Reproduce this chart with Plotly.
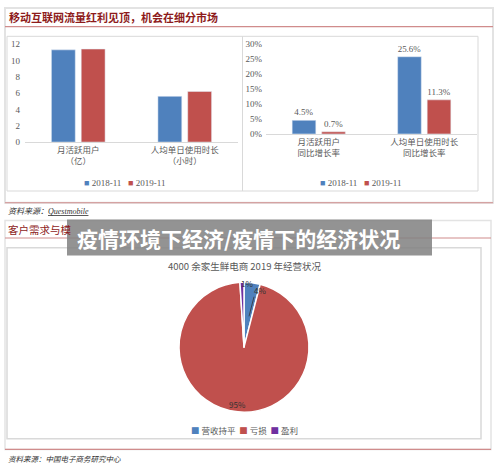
import plotly.graph_objects as go

W, H = 500, 476

def px(x):
    return x / W

def py(y):
    return 1 - y / H

# ---------------- data ----------------
left_categories = ["月活跃用户<br>（亿）", "人均单日使用时长<br>（小时）"]
left_2018 = [11.3, 5.6]
left_2019 = [11.4, 6.2]

right_categories = ["月活跃用户<br>同比增长率", "人均单日使用时长<br>同比增长率"]
right_2018 = [4.5, 25.6]
right_2019 = [0.7, 11.3]

series_names = ["2018-11", "2019-11"]

pie_labels = ["营收持平", "亏损", "盈利"]
pie_values = [4, 95, 1]

left_yticks = [0, 2, 4, 6, 8, 10, 12]
right_yticks = [0, 5, 10, 15, 20, 25, 30]

# ---------------- styles ----------------
BLUE = "#4F81BD"
RED = "#C0504D"
PURPLE = "#7030A0"
GRAY_TXT = "#595959"
SERIF = "Liberation Serif, Noto Sans CJK SC"
SANS = "Noto Sans CJK SC"
TITLE_RED = "#8E1B1B"
BOX = "#D9D9D9"
RED_LINE = "#D08C8C"

fig = go.Figure()

# left chart bars
fig.add_trace(go.Bar(x=left_categories, y=left_2018, name=series_names[0], marker_color=BLUE,
                     xaxis="x", yaxis="y", showlegend=False))
fig.add_trace(go.Bar(x=left_categories, y=left_2019, name=series_names[1], marker_color=RED,
                     xaxis="x", yaxis="y", showlegend=False))

# right chart bars
fig.add_trace(go.Bar(x=right_categories, y=right_2018, name=series_names[0], marker_color=BLUE,
                     xaxis="x2", yaxis="y2", showlegend=False,
                     text=[f"{v:.1f}%" for v in right_2018], textposition="outside",
                     textfont=dict(family=SERIF, size=9, color=GRAY_TXT), cliponaxis=False))
fig.add_trace(go.Bar(x=right_categories, y=right_2019, name=series_names[1], marker_color=RED,
                     xaxis="x2", yaxis="y2", showlegend=False,
                     text=[f"{v:.1f}%" for v in right_2019], textposition="outside",
                     textfont=dict(family=SERIF, size=9, color=GRAY_TXT), cliponaxis=False))

# pie
pie_colors = [BLUE, RED, PURPLE]
fig.add_trace(go.Pie(labels=pie_labels, values=pie_values, sort=False, direction="clockwise",
                     rotation=0,
                     marker=dict(colors=pie_colors, line=dict(color="white", width=1.5)),
                     textinfo="none", hoverinfo="label+percent",
                     domain=dict(x=[px(179), px(309)], y=[py(416), py(283)]),
                     showlegend=False))

axis_common = dict(showgrid=False, zeroline=False)

fig.update_layout(
    width=W, height=H,
    margin=dict(l=0, r=0, t=0, b=0),
    paper_bgcolor="white", plot_bgcolor="white",
    barmode="group", bargap=0.44, bargroupgap=0.2,
    showlegend=False,
    xaxis=dict(domain=[px(25), px(238)], anchor="y", showline=True, linecolor=BOX, linewidth=1,
               ticks="", tickfont=dict(family=SANS, size=8.5, color=GRAY_TXT), **axis_common),
    yaxis=dict(domain=[py(140), py(40)], anchor="x", range=[0, 12], tickvals=left_yticks,
               ticktext=[str(v) for v in left_yticks],
               showline=False, ticks="", tickfont=dict(family=SERIF, size=9, color=GRAY_TXT),
               ticklabelstandoff=4, **axis_common),
    xaxis2=dict(domain=[px(266), px(477)], anchor="y2", showline=True, linecolor=BOX, linewidth=1,
                ticks="", tickfont=dict(family=SANS, size=8.5, color=GRAY_TXT), **axis_common),
    yaxis2=dict(domain=[py(131.7), py(39.3)], anchor="x2", range=[0, 30], tickvals=right_yticks,
                ticktext=[f"{v}%" for v in right_yticks], showline=False, ticks="",
                tickfont=dict(family=SERIF, size=9, color=GRAY_TXT),
                ticklabelstandoff=3, **axis_common),
)

shapes = []

def rect(x0, y0, x1, y1, color, width=1, fill="rgba(0,0,0,0)", layer="below"):
    shapes.append(dict(type="rect", xref="paper", yref="paper", x0=px(x0), x1=px(x1),
                       y0=py(y1), y1=py(y0), line=dict(color=color, width=width),
                       fillcolor=fill, layer=layer))

def line(x0, y0, x1, y1, color, width=1):
    shapes.append(dict(type="line", xref="paper", yref="paper", x0=px(x0), x1=px(x1),
                       y0=py(y0), y1=py(y1), line=dict(color=color, width=width), layer="above"))

# top section
rect(5, 3, 493, 202, "#E3E3E3", 2)
line(5, 22, 493, 22, RED_LINE, 1.2)
rect(7, 32, 478, 190, BOX, 1)
line(242.5, 32, 242.5, 190, BOX, 1)
line(5, 202, 493, 202, RED_LINE, 1.2)

# bottom section
rect(5, 220, 491, 454, "#E3E3E3", 1.5)
line(5, 238, 491, 238, RED_LINE, 1.2)
rect(7, 248, 481, 443, BOX, 1.5)
line(5, 454, 491, 454, RED_LINE, 1.2)

# leader line for 4% label
line(254, 298, 249, 318, "#333333", 0.8)

# overlay banner
rect(67, 219, 432, 256, "rgba(0,0,0,0)", 0, fill="rgba(128,128,128,0.85)", layer="above")

fig.update_layout(shapes=shapes)

annotations = []

def text(x, y, s, size, color, family=SANS, xanchor="left", bold=False, italic=False, **kw):
    if bold:
        s = f"<b>{s}</b>"
    if italic:
        s = f"<i>{s}</i>"
    annotations.append(dict(xref="paper", yref="paper", x=px(x), y=py(y), text=s, showarrow=False,
                            xanchor=xanchor, yanchor="middle",
                            font=dict(family=family, size=size, color=color), **kw))

def legend_text(names, colors, gap="&nbsp;&nbsp;&nbsp;"):
    parts = []
    for n, c in zip(names, colors):
        parts.append(f"<span style='color:{c}'>■</span>&nbsp;{n}")
    return gap.join(parts)

text(7, 12, "移动互联网流量红利见顶，机会在细分市场", 11, TITLE_RED, bold=True)
text(6, 211, "资料来源：<u>Questmobile</u>", 8, "#333333", family="Liberation Serif, Noto Sans CJK SC", italic=True)
text(6, 229, "客户需求与模", 10.5, TITLE_RED)
text(245, 267, "4000 余家生鲜电商 2019 年经营状况", 9.5, GRAY_TXT, xanchor="center")

# legends
text(124, 182, legend_text(series_names, [BLUE, RED]), 9, GRAY_TXT, family=SERIF, xanchor="center")
text(360, 182, legend_text(series_names, [BLUE, RED]), 9, GRAY_TXT, family=SERIF, xanchor="center")
text(244, 434, legend_text(pie_labels, pie_colors, gap="&nbsp;&nbsp;"), 8.5, GRAY_TXT, xanchor="center")

# pie labels
text(247, 284, "1%", 8, "#333333", xanchor="center")
text(260, 292, "4%", 8, "#333333", xanchor="center")
text(237, 408, "95%", 8, "#333333", xanchor="center")

text(6, 463, "资料来源：中国电子商务研究中心", 7.5, "#333333", italic=True)

# banner title
text(238, 238, "疫情环境下经济/疫情下的经济状况", 21, "white", bold=True, xanchor="center")

fig.update_layout(annotations=annotations)

fig.write_html("out.html")
